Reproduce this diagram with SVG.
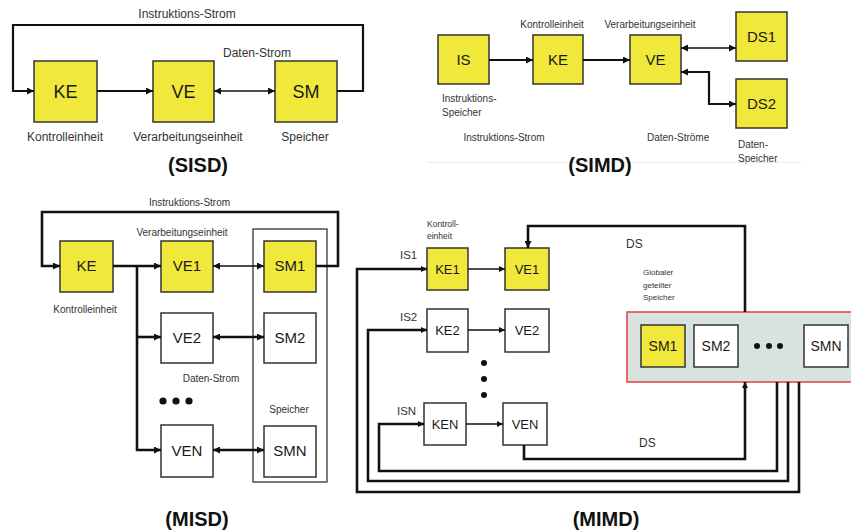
<svg xmlns="http://www.w3.org/2000/svg" width="851" height="531" viewBox="0 0 851 531">
<style>
.y{fill:#f0e83a;stroke:#333;stroke-width:1.5}
.w{fill:#fff;stroke:#333;stroke-width:1.5}
.bl{font-family:"Liberation Sans",Arial,sans-serif;fill:#1a1a1a;text-anchor:middle}
.lb{font-family:"Liberation Sans",Arial,sans-serif;fill:#333}
.t{font-family:"Liberation Sans",Arial,sans-serif;font-weight:bold;font-size:20px;fill:#111;text-anchor:middle}
.c{fill:none;stroke:#111;stroke-width:2.2}
.th{fill:none;stroke:#111;stroke-width:1.4}
.tk{fill:none;stroke:#111;stroke-width:2.6}
</style>
<defs>
<marker id="ah" viewBox="0 0 10 10" refX="10" refY="5" markerWidth="8" markerHeight="7" markerUnits="userSpaceOnUse" orient="auto-start-reverse"><path d="M0,0 L10,5 L0,10 z" fill="#111"/></marker>
<marker id="as" viewBox="0 0 10 10" refX="10" refY="5" markerWidth="7" markerHeight="6" markerUnits="userSpaceOnUse" orient="auto-start-reverse"><path d="M0,0 L10,5 L0,10 z" fill="#111"/></marker>
</defs>
<rect width="851" height="531" fill="#fff"/>

<!-- SISD -->
<g id="sisd-ke"><rect class="y" x="34" y="61" width="63" height="61"/><text class="bl" x="65.5" y="98" font-size="18">KE</text><text class="lb" x="65" y="141" font-size="12" text-anchor="middle">Kontrolleinheit</text></g>
<g id="sisd-ve"><rect class="y" x="153" y="61" width="61" height="61"/><text class="bl" x="183.5" y="98" font-size="18">VE</text><text class="lb" x="188" y="141" font-size="12" text-anchor="middle">Verarbeitungseinheit</text></g>
<g id="sisd-sm"><rect class="y" x="275" y="61" width="62" height="61"/><text class="bl" x="306" y="98" font-size="18">SM</text><text class="lb" x="305" y="141" font-size="12" text-anchor="middle">Speicher</text></g>
<text class="lb" x="187" y="18" font-size="12" text-anchor="middle">Instruktions-Strom</text>
<text class="lb" x="257" y="57" font-size="12" text-anchor="middle">Daten-Strom</text>
<text class="t" x="198" y="172">(SISD)</text>

<!-- SIMD -->
<g id="simd-is"><rect class="y" x="438" y="35" width="51" height="49"/><text class="bl" x="463.5" y="65" font-size="15">IS</text></g>
<g id="simd-ke"><rect class="y" x="533" y="35" width="50" height="49"/><text class="bl" x="558" y="65" font-size="15">KE</text></g>
<g id="simd-ve"><rect class="y" x="630" y="35" width="51" height="49"/><text class="bl" x="655.5" y="65" font-size="15">VE</text></g>
<g id="simd-ds1"><rect class="y" x="736" y="12" width="51" height="49"/><text class="bl" x="761.5" y="42" font-size="15">DS1</text></g>
<g id="simd-ds2"><rect class="y" x="736" y="79" width="51" height="49"/><text class="bl" x="761.5" y="109" font-size="15">DS2</text></g>
<text class="lb" x="552" y="28" font-size="10" text-anchor="middle">Kontrolleinheit</text>
<text class="lb" x="650" y="28" font-size="10" text-anchor="middle">Verarbeitungseinheit</text>
<text class="lb" x="442" y="102" font-size="10">Instruktions-</text>
<text class="lb" x="442" y="116" font-size="10">Speicher</text>
<text class="lb" x="504" y="141" font-size="10" text-anchor="middle">Instruktions-Strom</text>
<text class="lb" x="647" y="141" font-size="10">Daten-Ströme</text>
<text class="lb" x="738" y="148" font-size="10">Daten-</text>
<text class="lb" x="738" y="162" font-size="10">Speicher</text>
<line x1="427" y1="162.5" x2="802" y2="162.5" stroke="#e4eeee" stroke-width="1"/>
<text class="t" x="600" y="172">(SIMD)</text>

<!-- MISD -->
<g id="misd-ke"><rect class="y" x="60" y="241" width="53" height="51"/><text class="bl" x="86.5" y="271" font-size="15">KE</text></g>
<g id="misd-ve1"><rect class="y" x="161" y="241" width="52" height="51"/><text class="bl" x="187" y="271" font-size="15">VE1</text></g>
<g id="misd-speicher"><rect x="253" y="229" width="74" height="253" fill="none" stroke="#333" stroke-width="1.3"/><text class="lb" x="289" y="413" font-size="10" text-anchor="middle">Speicher</text></g>
<g id="misd-sm1"><rect class="y" x="264" y="241" width="52" height="51"/><text class="bl" x="290" y="271" font-size="15">SM1</text></g>
<g id="misd-ve2"><rect class="w" x="161" y="313" width="52" height="50"/><text class="bl" x="187" y="343" font-size="15">VE2</text></g>
<g id="misd-sm2"><rect class="w" x="264" y="313" width="52" height="50"/><text class="bl" x="290" y="343" font-size="15">SM2</text></g>
<g id="misd-ven"><rect class="w" x="161" y="425" width="52" height="52"/><text class="bl" x="187" y="456" font-size="15">VEN</text></g>
<g id="misd-smn"><rect class="w" x="264" y="426" width="52" height="51"/><text class="bl" x="290" y="456" font-size="15">SMN</text></g>
<g id="misd-dots" fill="#111"><circle cx="163" cy="401" r="3.6"/><circle cx="176" cy="401" r="3.6"/><circle cx="189" cy="401" r="3.6"/></g>
<text class="lb" x="189.5" y="206" font-size="10" text-anchor="middle">Instruktions-Strom</text>
<text class="lb" x="182" y="236" font-size="10" text-anchor="middle">Verarbeitungseinheit</text>
<text class="lb" x="85" y="313" font-size="10" text-anchor="middle">Kontrolleinheit</text>
<text class="lb" x="211" y="382" font-size="10" text-anchor="middle">Daten-Strom</text>
<text class="t" x="197" y="526">(MISD)</text>

<!-- MIMD -->
<g id="mimd-ke1"><rect class="y" x="427" y="248" width="41" height="42"/><text class="bl" x="447.5" y="274" font-size="13">KE1</text></g>
<g id="mimd-ve1"><rect class="y" x="505" y="248" width="44" height="42"/><text class="bl" x="527" y="274" font-size="13">VE1</text></g>
<g id="mimd-ke2"><rect class="w" x="427" y="309" width="41" height="43"/><text class="bl" x="447.5" y="335" font-size="13">KE2</text></g>
<g id="mimd-ve2"><rect class="w" x="505" y="309" width="44" height="43"/><text class="bl" x="527" y="335" font-size="13">VE2</text></g>
<g id="mimd-ken"><rect class="w" x="424" y="403" width="42" height="42"/><text class="bl" x="445" y="429" font-size="13">KEN</text></g>
<g id="mimd-ven"><rect class="w" x="503" y="403" width="44" height="42"/><text class="bl" x="525" y="429" font-size="13">VEN</text></g>
<g id="mimd-dots" fill="#111"><circle cx="484" cy="363" r="3"/><circle cx="484" cy="379" r="3"/><circle cx="484" cy="395" r="3"/></g>
<g id="mimd-speicher">
<rect x="627" y="312" width="230" height="70" fill="#d8e3e1" stroke="#e53d3d" stroke-width="1.5"/>
<rect class="y" x="641" y="325" width="44" height="42"/><text class="bl" x="663" y="351" font-size="14">SM1</text>
<rect class="w" x="694" y="325" width="44" height="42"/><text class="bl" x="716" y="351" font-size="14">SM2</text>
<circle cx="757" cy="346" r="3" fill="#111"/><circle cx="769" cy="346" r="3" fill="#111"/><circle cx="780" cy="346" r="3" fill="#111"/>
<rect class="w" x="804" y="325" width="44" height="42"/><text class="bl" x="826" y="351" font-size="14">SMN</text>
</g>
<text class="lb" x="427" y="227" font-size="8.5">Kontroll-</text>
<text class="lb" x="427" y="239" font-size="8.5">einheit</text>
<text class="lb" x="643" y="275" font-size="8">Globaler</text>
<text class="lb" x="643" y="288" font-size="8">geteilter</text>
<text class="lb" x="643" y="300" font-size="8">Speicher</text>
<text class="lb" x="400" y="259" font-size="11.5">IS1</text>
<text class="lb" x="400" y="321" font-size="11.5">IS2</text>
<text class="lb" x="397" y="415" font-size="11.5">ISN</text>
<text class="lb" x="626" y="248" font-size="12">DS</text>
<text class="lb" x="639" y="447" font-size="12">DS</text>
<text class="t" x="606" y="526">(MIMD)</text>

<g id="connectors">
<path class="c" d="M337,91 H363 V25 H13 V91 H34" marker-end="url(#ah)"/>
<path class="c" d="M97,91 H153" marker-end="url(#ah)"/>
<path class="th" d="M214,91 H275" marker-start="url(#ah)" marker-end="url(#ah)"/>
<path class="c" d="M489,60 H533" marker-end="url(#ah)"/>
<path class="c" d="M583,60 H630" marker-end="url(#ah)"/>
<path class="th" d="M681,48 H736" marker-start="url(#ah)" marker-end="url(#ah)"/>
<path class="c" d="M681,72 H709 V104 H736" marker-start="url(#ah)" marker-end="url(#ah)"/>
<path class="tk" d="M316,266 H338 V212 H42 V266 H60" marker-end="url(#ah)"/>
<path class="tk" d="M113,266 H161" marker-end="url(#ah)"/>
<path class="tk" d="M137,266 V450 H161" marker-end="url(#ah)"/>
<path class="tk" d="M137,337 H161" marker-end="url(#ah)"/>
<path class="th" d="M213,266 H264" marker-start="url(#ah)" marker-end="url(#ah)"/>
<path class="tk" d="M213,337 H264" marker-start="url(#ah)" marker-end="url(#ah)"/>
<path class="tk" d="M213,450 H264" marker-start="url(#ah)" marker-end="url(#ah)"/>
<path class="tk" d="M745,312 V226 H528 V248" marker-end="url(#ah)"/>
<path class="tk" d="M799,382 V492 H357 V269 H427" marker-end="url(#as)"/>
<path class="tk" d="M788,382 V481 H368 V330 H427" marker-end="url(#as)"/>
<path class="tk" d="M777,382 V471 H379 V424 H424" marker-end="url(#as)"/>
<path class="tk" d="M524,445 V459 H745 V382" marker-end="url(#as)"/>
<path class="th" d="M468,269 H505" marker-end="url(#as)"/>
<path class="th" d="M468,330 H505" marker-end="url(#as)"/>
<path class="th" d="M466,424 H503" marker-end="url(#as)"/>
</g>
</svg>
